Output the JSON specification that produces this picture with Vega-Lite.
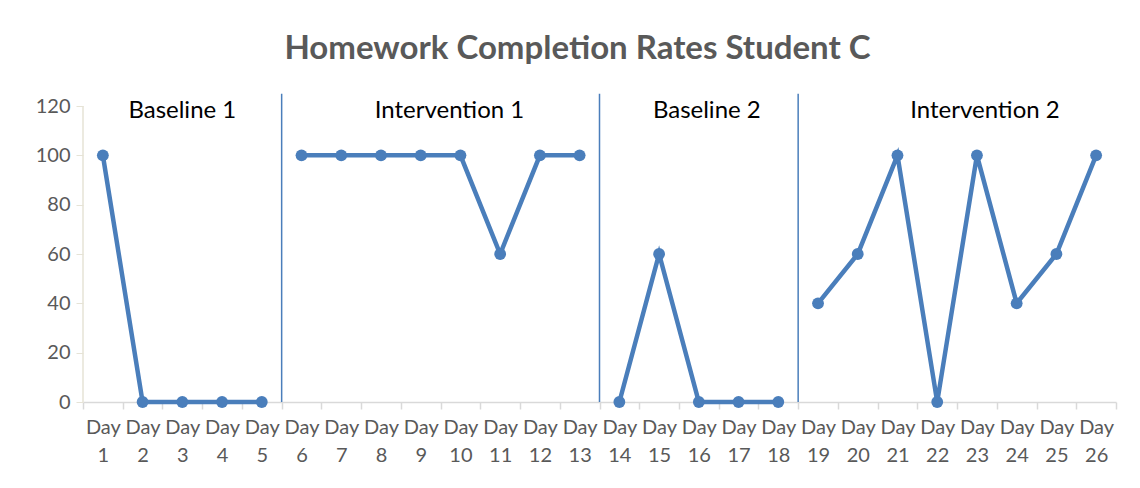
{
  "$schema": "https://vega.github.io/schema/vega-lite/v6.json",
  "width": 1033,
  "height": 296,
  "autosize": "none",
  "padding": {"left": 83, "top": 106, "right": 24, "bottom": 86},
  "background": "white",
  "config": {"view": {"stroke": null}, "font": "Lato"},
  "title": {
    "text": "Homework Completion Rates Student C",
    "font": "Lato",
    "fontSize": 33,
    "fontWeight": "bold",
    "color": "#595959",
    "anchor": "middle",
    "dx": -22,
    "baseline": "alphabetic",
    "offset": 1
  },
  "datasets": {
    "rates": [
      {"day": "Day 1", "rate": 100, "phase": "Baseline 1"},
      {"day": "Day 2", "rate": 0, "phase": "Baseline 1"},
      {"day": "Day 3", "rate": 0, "phase": "Baseline 1"},
      {"day": "Day 4", "rate": 0, "phase": "Baseline 1"},
      {"day": "Day 5", "rate": 0, "phase": "Baseline 1"},
      {"day": "Day 6", "rate": 100, "phase": "Intervention 1"},
      {"day": "Day 7", "rate": 100, "phase": "Intervention 1"},
      {"day": "Day 8", "rate": 100, "phase": "Intervention 1"},
      {"day": "Day 9", "rate": 100, "phase": "Intervention 1"},
      {"day": "Day 10", "rate": 100, "phase": "Intervention 1"},
      {"day": "Day 11", "rate": 60, "phase": "Intervention 1"},
      {"day": "Day 12", "rate": 100, "phase": "Intervention 1"},
      {"day": "Day 13", "rate": 100, "phase": "Intervention 1"},
      {"day": "Day 14", "rate": 0, "phase": "Baseline 2"},
      {"day": "Day 15", "rate": 60, "phase": "Baseline 2"},
      {"day": "Day 16", "rate": 0, "phase": "Baseline 2"},
      {"day": "Day 17", "rate": 0, "phase": "Baseline 2"},
      {"day": "Day 18", "rate": 0, "phase": "Baseline 2"},
      {"day": "Day 19", "rate": 40, "phase": "Intervention 2"},
      {"day": "Day 20", "rate": 60, "phase": "Intervention 2"},
      {"day": "Day 21", "rate": 100, "phase": "Intervention 2"},
      {"day": "Day 22", "rate": 0, "phase": "Intervention 2"},
      {"day": "Day 23", "rate": 100, "phase": "Intervention 2"},
      {"day": "Day 24", "rate": 40, "phase": "Intervention 2"},
      {"day": "Day 25", "rate": 60, "phase": "Intervention 2"},
      {"day": "Day 26", "rate": 100, "phase": "Intervention 2"}
    ],
    "phases": [
      {"label": "Baseline 1", "labelDay": "Day 3", "endDay": "Day 5", "grp": "a"},
      {"label": "Intervention 1", "labelDay": "Day 10", "endDay": "Day 13", "grp": "b"},
      {"label": "Baseline 2", "labelDay": "Day 16", "endDay": "Day 18", "grp": "c"},
      {"label": "Intervention 2", "labelDay": "Day 23", "endDay": null, "grp": "c"}
    ]
  },
  "encoding": {
    "x": {
      "field": "day",
      "type": "ordinal",
      "sort": null,
      "scale": {
        "type": "band",
        "paddingInner": 0,
        "paddingOuter": 0,
        "domain": ["Day 1","Day 2","Day 3","Day 4","Day 5","Day 6","Day 7","Day 8","Day 9","Day 10","Day 11","Day 12","Day 13","Day 14","Day 15","Day 16","Day 17","Day 18","Day 19","Day 20","Day 21","Day 22","Day 23","Day 24","Day 25","Day 26"]
      },
      "axis": {
        "title": null,
        "labelAngle": 0,
        "labelExpr": "split(datum.label, ' ')",
        "labelFont": "Lato",
        "labelFontSize": 20,
        "labelColor": "#595959",
        "labelLineHeight": 28,
        "labelPadding": 8,
        "labelBaseline": "top",
        "tickBand": "extent",
        "tickSize": 7,
        "tickColor": "#d9d9d9",
        "tickWidth": 1.5,
        "domainColor": "#d9d9d9",
        "domainWidth": 1.5,
        "grid": false
      }
    }
  },
  "layer": [
    {
      "data": {"values": [{"a": 0, "b": 120}]},
      "mark": {"type": "rule", "color": "#e6e3d6", "strokeWidth": 1.5},
      "encoding": {
        "x": {"value": 0},
        "y": {"field": "a", "type": "quantitative", "scale": {"domain": [0, 120]}},
        "y2": {"field": "b"}
      }
    },
    {
      "data": {"name": "phases"},
      "transform": [{"filter": "datum.endDay != null"}],
      "mark": {"type": "rule", "color": "#4a7ebb", "strokeWidth": 1.5},
      "encoding": {
        "x": {"field": "endDay", "type": "ordinal", "bandPosition": 1},
        "y": {"datum": 0, "type": "quantitative"},
        "y2": {"datum": 125}
      }
    },
    {
      "data": {"name": "phases"},
      "transform": [{"filter": "datum.grp == 'a'"}],
      "mark": {"type": "text", "font": "Lato", "fontSize": 24, "color": "#000000", "baseline": "middle", "align": "center"},
      "encoding": {
        "x": {"field": "labelDay", "type": "ordinal"},
        "y": {"datum": 118, "type": "quantitative"},
        "text": {"field": "label"}
      }
    },
    {
      "data": {"name": "phases"},
      "transform": [{"filter": "datum.grp == 'b'"}],
      "mark": {"type": "text", "font": "Lato", "fontSize": 24, "color": "#000000", "baseline": "middle", "align": "center", "dx": -11},
      "encoding": {
        "x": {"field": "labelDay", "type": "ordinal"},
        "y": {"datum": 118, "type": "quantitative"},
        "text": {"field": "label"}
      }
    },
    {
      "data": {"name": "phases"},
      "transform": [{"filter": "datum.grp == 'c'"}],
      "mark": {"type": "text", "font": "Lato", "fontSize": 24, "color": "#000000", "baseline": "middle", "align": "center", "dx": 8},
      "encoding": {
        "x": {"field": "labelDay", "type": "ordinal"},
        "y": {"datum": 118, "type": "quantitative"},
        "text": {"field": "label"}
      }
    },
    {
      "data": {"name": "rates"},
      "mark": {"type": "line", "color": "#4a7ebb", "strokeWidth": 4.5},
      "encoding": {
        "y": {
          "field": "rate",
          "type": "quantitative",
          "scale": {"domain": [0, 120]},
          "axis": {
            "title": null,
            "values": [0, 20, 40, 60, 80, 100, 120],
            "labelFont": "Lato",
            "labelFontSize": 20,
            "labelColor": "#595959",
            "labelPadding": 6,
            "tickSize": 7,
            "tickColor": "#e6e3d6",
            "domain": false,
            "grid": false
          }
        },
        "detail": {"field": "phase"}
      }
    },
    {
      "data": {"name": "rates"},
      "mark": {"type": "point", "filled": true, "opacity": 1, "color": "#4a7ebb", "size": 140, "shape": "circle"},
      "encoding": {
        "y": {"field": "rate", "type": "quantitative"}
      }
    }
  ]
}
